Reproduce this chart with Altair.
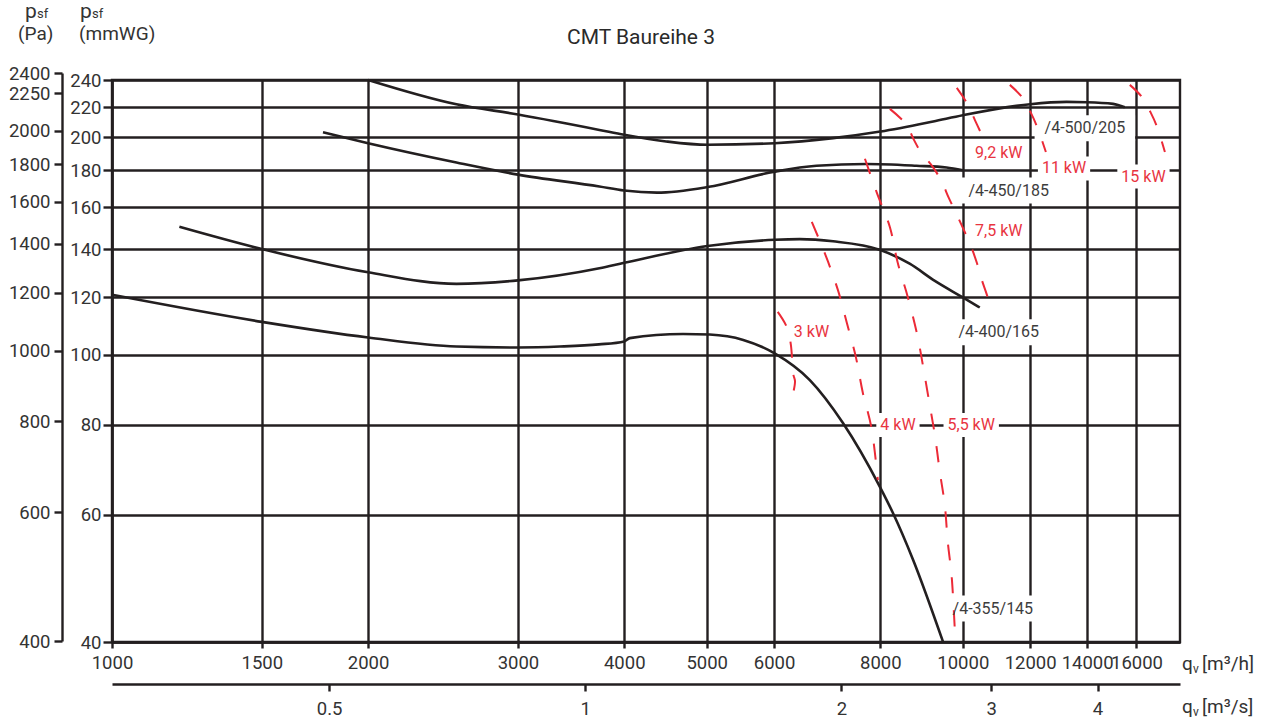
import altair as alt
import pandas as pd

# ---------------- data (qv in m3/h, psf in mmWG) ----------------
q_355 = [1000, 1500, 2000, 2540, 3000, 3360, 3735, 4000, 4060, 4690, 5040, 5520, 6010, 6610, 7230, 7990, 8280, 8740, 9480]
p_355 = [121, 111, 105.6, 102.6, 102.3, 102.6, 103.3, 104.3, 105.4, 106.8, 106.6, 104.8, 100.4, 92.2, 80.4, 65.6, 60.3, 52.0, 40]
q_400 = [1200, 1500, 2000, 2540, 3000, 3740, 4000, 5010, 6010, 6430, 7040, 8000, 8660, 9271, 10000, 10470]
p_400 = [150.3, 140, 130, 125.3, 126.7, 131.7, 134, 141.4, 144.2, 144.5, 143.5, 139.6, 133.6, 126.5, 120, 116.2]
q_450 = [1770, 2000, 2540, 3000, 3740, 4000, 4370, 5010, 6010, 6730, 7700, 8820, 9570, 10000]
p_450 = [203.2, 196.2, 184.5, 177.5, 170.9, 168.7, 167.6, 170.6, 179.2, 182.6, 183.6, 182.6, 181.6, 180]
q_500 = [2000, 2540, 3000, 3740, 4000, 4480, 5010, 6010, 7040, 8000, 9230, 10000, 12000, 13240, 14000, 15020, 15500]
p_500 = [240, 222.1, 215, 204.7, 201.5, 197.3, 195.2, 196.2, 199.4, 203.6, 210.3, 214.5, 222.2, 223.8, 223.6, 222.4, 220]

# motor power lines
q_3kw = [6060, 6210, 6280, 6315, 6350, 6315]
p_3kw = [114.6, 109.2, 103.1, 94.6, 91.7, 88.2]
q_4kw = [6645, 6902, 7131, 7307, 7487, 7630, 7818, 7946]
p_4kw = [152.7, 137.0, 122.9, 110.6, 99.2, 88.5, 78.6, 67.0]
q_55kw = [7673, 7925, 8208, 8385, 8616, 8829, 8974, 9121, 9271, 9397, 9524, 9602, 9707, 9786]
p_55kw = [186.7, 167.5, 150.2, 134.0, 120.2, 107.2, 96.8, 86.6, 77.4, 68.8, 61.9, 55.0, 49.0, 41.6]
q_75kw = [8208, 8577, 8736, 8925, 9220, 9447, 9628, 9840, 10027, 10219, 10387, 10527, 10701, 10757]
p_75kw = [218.9, 208.7, 199.6, 190.8, 181.9, 173.5, 164.8, 156.1, 148.8, 141.4, 134.0, 126.9, 119.8, 115.3]
q_92kw = [9838, 10108, 10330, 10527]
p_92kw = [234.1, 223.2, 211.4, 201.5]
q_11kw = [11357, 11731, 12024, 12254, 12521]
p_11kw = [236.3, 227.4, 216.1, 205.3, 190.8]
q_15kw = [15714, 16232, 16634, 16952, 17279]
p_15kw = [236.3, 227.4, 216.1, 205.3, 190.8]

fan_names = ["/4-500/205", "/4-450/185", "/4-400/165", "/4-355/145"]
fan_lbl_q = [13913, 11321, 11023, 10846]
fan_lbl_p = [205.7, 168.7, 107.4, 44.5]
kw_names = ["3 kW", "4 kW", "5,5 kW", "7,5 kW", "9,2 kW", "11 kW", "15 kW"]
kw_lbl_q = [6639, 8390, 10230, 11023, 11023, 13151, 16305]
kw_lbl_p = [107.4, 79.9, 79.9, 148.4, 190.4, 181.0, 176.4]

x_ticks = [1000, 1500, 2000, 3000, 4000, 5000, 6000, 8000, 10000, 12000, 14000, 16000]
y_ticks = [40, 60, 80, 100, 120, 140, 160, 180, 200, 220, 240]
pa_ticks = [400, 600, 800, 1000, 1200, 1400, 1600, 1800, 2000, 2250, 2400]
qs_ticks = [0.5, 1, 2, 3, 4]

# ---------------- styling ----------------
W, H = 1068, 562
INK = "#231f20"
RED = "#ec2a37"
RED_TXT = "#e8343f"
TXT = "#333333"
FONT = "Roboto"
LBL = 18.5
LW = 2.4

def table(pairs):
    rows = []
    for name, qs, ps in pairs:
        for i, (q, p) in enumerate(zip(qs, ps)):
            rows.append({"curve": name, "q": q, "p": p, "i": i})
    return pd.DataFrame(rows)

fan_df = table([("500", q_500, p_500), ("450", q_450, p_450),
                ("400", q_400, p_400), ("355", q_355, p_355)])
kw_df = table([("3", q_3kw, p_3kw), ("4", q_4kw, p_4kw), ("5.5", q_55kw, p_55kw),
               ("7.5", q_75kw, p_75kw), ("9.2", q_92kw, p_92kw),
               ("11", q_11kw, p_11kw), ("15", q_15kw, p_15kw)])

CW = {"/": 0.41, "-": 0.276, ",": 0.196, " ": 0.248, "k": 0.507, "W": 0.887}

def label_table(texts, qs, ps, pad, bh):
    rows = []
    for t, q, p in zip(texts, qs, ps):
        w = sum(CW.get(c, 0.562) for c in t) * 16 + pad
        h = bh / w
        rows.append({"t": t, "q": q, "p": p,
                     "shape": f"M-1,-{h:.4f}H1V{h:.4f}H-1Z", "size": w * w})
    return pd.DataFrame(rows)

fan_lbl_df = label_table(fan_names, fan_lbl_q, fan_lbl_p, 20, 26)
kw_lbl_df = label_table(kw_names, kw_lbl_q, kw_lbl_p, 8, 24)

xscale = alt.Scale(type="log", domain=[1000, 18000], nice=False)
yscale = alt.Scale(type="log", domain=[40, 240], nice=False)
xaxis = alt.Axis(values=x_ticks, format="d", grid=True, gridColor=INK, gridWidth=LW,
                 gridOpacity=1, domainColor=INK, domainWidth=LW, tickColor=INK,
                 tickWidth=LW, tickSize=6, labelPadding=5, labelFont=FONT,
                 labelFontSize=LBL, labelColor=TXT, labelFlush=False,
                 labelOverlap=False, title=None)
yaxis = alt.Axis(values=y_ticks, format="d", grid=True, gridColor=INK, gridWidth=LW,
                 gridOpacity=1, domainColor=INK, domainWidth=LW, tickColor=INK,
                 tickWidth=LW, tickSize=9, labelPadding=2, labelFont=FONT,
                 labelFontSize=LBL, labelColor=TXT, labelFlush=False,
                 labelOverlap=False, title=None)

def X():
    return alt.X("q:Q", scale=xscale, axis=xaxis)

def Y():
    return alt.Y("p:Q", scale=yscale, axis=yaxis)

fan_lines = alt.Chart(fan_df).mark_line(color=INK, strokeWidth=2.6, interpolate="monotone").encode(
    x=X(), y=Y(), detail="curve:N", order="i:Q")
kw_lines = alt.Chart(kw_df).mark_line(color=RED, strokeWidth=2, strokeDash=[16, 17],
                                      interpolate="cardinal").encode(
    x=X(), y=Y(), detail="curve:N", order="i:Q")

def boxes(df):
    return alt.Chart(df).mark_point(filled=True, color="white", opacity=1, strokeWidth=0).encode(
        x=X(), y=Y(), shape=alt.Shape("shape:N", scale=None), size=alt.Size("size:Q", scale=None))

def texts(df, color):
    return alt.Chart(df).mark_text(font=FONT, fontSize=16, color=color, align="center",
                                   baseline="middle").encode(x=X(), y=Y(), text="t:N")

def note(text, x, y, size, align="left", baseline="alphabetic", color=TXT):
    return alt.Chart(pd.DataFrame({"t": [text]})).mark_text(
        font=FONT, fontSize=size, color=color, align=align, baseline=baseline).encode(
        x=alt.value(x), y=alt.value(y), text="t:N")

notes = [
    note("CMT Baureihe 3", 529, -42, 21, align="center", baseline="middle", color="#2a2a2a"),
    note("p", -87, -62, 21), note("sf", -75, -62, 13), note("(Pa)", -94, -40, 19),
    note("p", -32, -62, 21), note("sf", -20, -62, 13), note("(mmWG)", -33, -40, 19),
    note("q", 1070, 590, 19), note("v", 1081, 593, 12), note("[m³/h]", 1090, 590, 19),
    note("q", 1070, 633, 19), note("v", 1081, 636, 12), note("[m³/s]", 1090, 633, 19),
]

main = alt.layer(boxes(fan_lbl_df), boxes(kw_lbl_df), fan_lines, kw_lines,
                 texts(fan_lbl_df, "#3d3d3d"), texts(kw_lbl_df, RED_TXT), *notes)

# secondary axes: psf in Pa and qv in m3/s
sec_df = pd.DataFrame({"qs": qs_ticks, "pa": pa_ticks[:len(qs_ticks)]})
secondary = alt.Chart(sec_df).mark_point(opacity=0).encode(
    x=alt.X("qs:Q", scale=alt.Scale(type="log", domain=[1000 / 3600, 18000 / 3600], nice=False),
            axis=alt.Axis(orient="bottom", offset=42, values=qs_ticks, format="~g", grid=False,
                          domainColor=INK, domainWidth=LW, tickColor=INK, tickWidth=LW,
                          tickSize=7, labelPadding=8, labelFont=FONT, labelFontSize=LBL,
                          labelColor=TXT, labelFlush=False, labelOverlap=False, title=None)),
    y=alt.Y("pa:Q", scale=alt.Scale(type="log", domain=[400, 2400], nice=False, range=[561, -7]),
            axis=alt.Axis(orient="left", offset=50, values=pa_ticks, format="d", grid=False,
                          domainColor=INK, domainWidth=LW, tickColor=INK, tickWidth=LW,
                          tickSize=8, labelPadding=4, labelFont=FONT, labelFontSize=LBL,
                          labelColor=TXT, labelFlush=False, labelOverlap=False, title=None)),
)

chart = alt.layer(main, secondary).resolve_scale(x="independent", y="independent").properties(
    width=W, height=H, autosize=alt.AutoSizeParams(type="none"),
    padding={"left": 112, "top": 80, "right": 91, "bottom": 79},
    background="white",
).configure_view(stroke=INK, strokeWidth=LW)

chart.save("out.html", embed_options={"renderer": "svg", "actions": False})
